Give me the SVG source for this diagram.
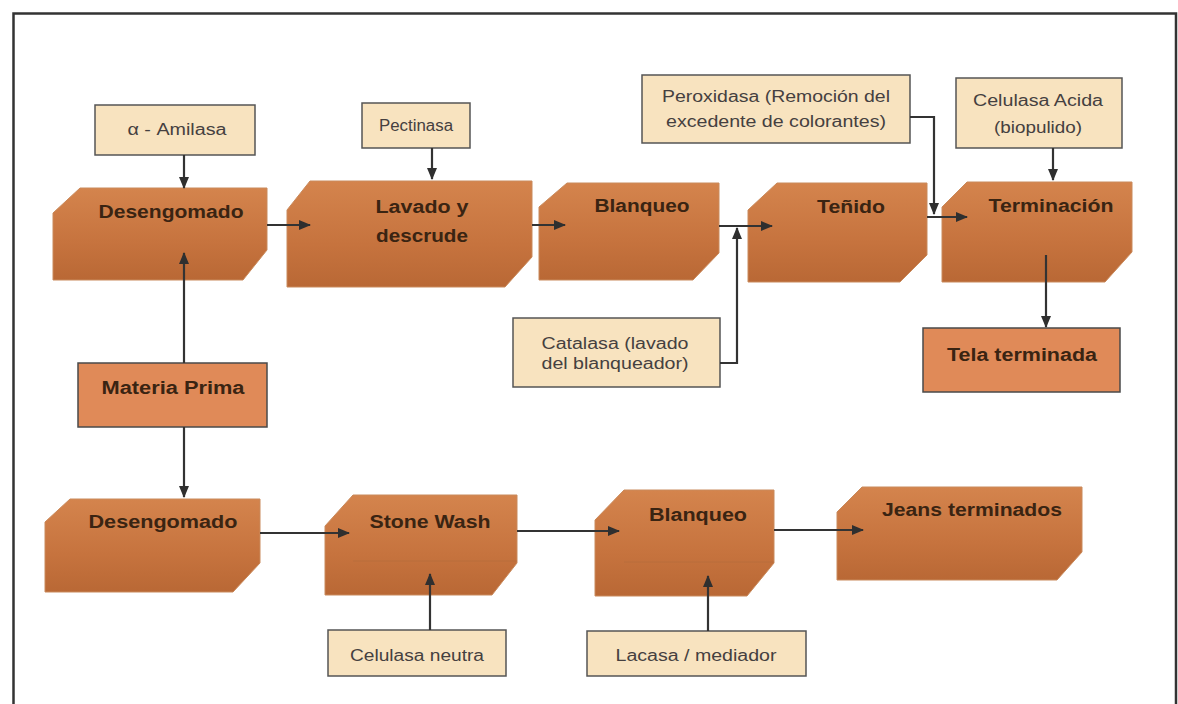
<svg xmlns="http://www.w3.org/2000/svg" width="1178" height="704" viewBox="0 0 1178 704">
<defs>
<linearGradient id="blk" x1="0" y1="0" x2="0" y2="1">
<stop offset="0" stop-color="#D4844D"/>
<stop offset="0.6" stop-color="#C6733E"/>
<stop offset="1" stop-color="#B96835"/>
</linearGradient>
<marker id="ah" markerUnits="userSpaceOnUse" markerWidth="12" markerHeight="10" viewBox="0 0 12 10" refX="11" refY="5" orient="auto">
<path d="M0,0 L12,5 L0,10 Z" fill="#2f2f2f"/>
</marker>
</defs>
<style>
.blk{fill:url(#blk);stroke:#c98a5c;stroke-width:1}
.face{stroke:#b06a3c;stroke-width:1;opacity:0.6;fill:none}
.org{fill:#E08A58;stroke:#4a4a4a;stroke-width:1.5}
.enz{fill:#F8E3BF;stroke:#555;stroke-width:1.5}
.bt{font-family:"Liberation Sans Narrow","Liberation Sans",Arial,sans-serif;font-weight:bold;font-size:18px;fill:#3a2412;text-anchor:middle}
.et{font-family:"Liberation Sans Narrow","Liberation Sans",Arial,sans-serif;font-size:16px;fill:#454040;text-anchor:middle}
.cn{fill:none;stroke:#333;stroke-width:2.2}
</style>
<rect width="1178" height="704" fill="#ffffff"/>
<path d="M13.5,704 V13.5 H1176 V704" fill="none" stroke="#333" stroke-width="2.5"/>

<g id="desengomado1">
<polygon class="blk" points="80,188 267,188 267,250 243,280 53,280 53,213"/>
<text class="bt" x="171" y="218" textLength="145" lengthAdjust="spacingAndGlyphs">Desengomado</text>
</g>
<g id="lavado">
<polygon class="blk" points="310,181 532,181 532,257 505,287 287,287 287,210"/>
<text class="bt" x="422" y="213" textLength="93" lengthAdjust="spacingAndGlyphs">Lavado y</text>
<text class="bt" x="422" y="242" textLength="92" lengthAdjust="spacingAndGlyphs">descrude</text>
</g>
<g id="blanqueo1">
<polygon class="blk" points="567,183 719,183 719,253 693,280 539,280 539,207"/>
<text class="bt" x="642" y="212" textLength="95" lengthAdjust="spacingAndGlyphs">Blanqueo</text>
</g>
<g id="tenido">
<polygon class="blk" points="777,183 927,183 927,255 900,282 748,282 748,210"/>
<text class="bt" x="851" y="213" textLength="68" lengthAdjust="spacingAndGlyphs">Teñido</text>
</g>
<g id="terminacion">
<polygon class="blk" points="967,182 1132,182 1132,252 1105,282 942,282 942,207"/>
<text class="bt" x="1051" y="212" textLength="125" lengthAdjust="spacingAndGlyphs">Terminación</text>
</g>
<g id="tela">
<rect class="org" x="923" y="328" width="197" height="64"/>
<text class="bt" x="1022" y="361" textLength="150" lengthAdjust="spacingAndGlyphs">Tela terminada</text>
</g>
<g id="materia">
<rect class="org" x="78" y="363" width="189" height="64"/>
<text class="bt" x="173" y="394" textLength="143" lengthAdjust="spacingAndGlyphs">Materia Prima</text>
</g>
<g id="desengomado2">
<polygon class="blk" points="70,499 260,499 260,563 233,592 45,592 45,522"/>
<text class="bt" x="163" y="528" textLength="149" lengthAdjust="spacingAndGlyphs">Desengomado</text>
</g>
<g id="stonewash">
<polygon class="blk" points="353,495 517,495 517,563 492,595 325,595 325,526"/>
<line class="face" x1="353" y1="561" x2="517" y2="561"/>
<text class="bt" x="430" y="528" textLength="121" lengthAdjust="spacingAndGlyphs">Stone Wash</text>
</g>
<g id="blanqueo2">
<polygon class="blk" points="624,490 774,490 774,563 747,596 595,596 595,520"/>
<line class="face" x1="624" y1="562" x2="774" y2="562"/>
<text class="bt" x="698" y="521" textLength="98" lengthAdjust="spacingAndGlyphs">Blanqueo</text>
</g>
<g id="jeans">
<polygon class="blk" points="862,487 1082,487 1082,552 1057,580 837,580 837,512"/>
<text class="bt" x="972" y="516" textLength="180" lengthAdjust="spacingAndGlyphs">Jeans terminados</text>
</g>

<g id="amilasa">
<rect class="enz" x="95" y="105" width="160" height="50"/>
<text class="et" x="177" y="135" textLength="99" lengthAdjust="spacingAndGlyphs">α - Amilasa</text>
</g>
<g id="pectinasa">
<rect class="enz" x="362" y="103" width="108" height="45"/>
<text class="et" x="416" y="131" textLength="74" lengthAdjust="spacingAndGlyphs">Pectinasa</text>
</g>
<g id="peroxidasa">
<rect class="enz" x="642" y="75" width="268" height="68"/>
<text class="et" x="776" y="102" textLength="228" lengthAdjust="spacingAndGlyphs">Peroxidasa (Remoción del</text>
<text class="et" x="776" y="127" textLength="220" lengthAdjust="spacingAndGlyphs">excedente de colorantes)</text>
</g>
<g id="celulasaacida">
<rect class="enz" x="956" y="78" width="166" height="70"/>
<text class="et" x="1038" y="106" textLength="130" lengthAdjust="spacingAndGlyphs">Celulasa Acida</text>
<text class="et" x="1038" y="133" textLength="88" lengthAdjust="spacingAndGlyphs">(biopulido)</text>
</g>
<g id="catalasa">
<rect class="enz" x="513" y="318" width="207" height="69"/>
<text class="et" x="615" y="349" textLength="147" lengthAdjust="spacingAndGlyphs">Catalasa (lavado</text>
<text class="et" x="615" y="369" textLength="147" lengthAdjust="spacingAndGlyphs">del blanqueador)</text>
</g>
<g id="celulasaneutra">
<rect class="enz" x="328" y="630" width="178" height="46"/>
<text class="et" x="417" y="661" textLength="134" lengthAdjust="spacingAndGlyphs">Celulasa neutra</text>
</g>
<g id="lacasa">
<rect class="enz" x="587" y="631" width="219" height="45"/>
<text class="et" x="696" y="661" textLength="161" lengthAdjust="spacingAndGlyphs">Lacasa / mediador</text>
</g>

<g id="connectors">
<path class="cn" marker-end="url(#ah)" d="M184,155 V188"/>
<path class="cn" marker-end="url(#ah)" d="M184,363 V253"/>
<path class="cn" marker-end="url(#ah)" d="M184,427 V497"/>
<path class="cn" marker-end="url(#ah)" d="M267,225 H310"/>
<path class="cn" marker-end="url(#ah)" d="M432,148 V179"/>
<path class="cn" marker-end="url(#ah)" d="M532,225 H565"/>
<path class="cn" marker-end="url(#ah)" d="M719,226 H772"/>
<path class="cn" marker-end="url(#ah)" d="M720,363 H737 V228"/>
<path class="cn" marker-end="url(#ah)" d="M927,217 H967"/>
<path class="cn" marker-end="url(#ah)" d="M910,117 H934 V214"/>
<path class="cn" marker-end="url(#ah)" d="M1053,148 V180"/>
<path class="cn" marker-end="url(#ah)" d="M1046,255 V327"/>
<path class="cn" marker-end="url(#ah)" d="M260,533 H349"/>
<path class="cn" marker-end="url(#ah)" d="M430,630 V574"/>
<path class="cn" marker-end="url(#ah)" d="M517,531 H619"/>
<path class="cn" marker-end="url(#ah)" d="M708,631 V576"/>
<path class="cn" marker-end="url(#ah)" d="M774,530 H863"/>
</g>
</svg>
